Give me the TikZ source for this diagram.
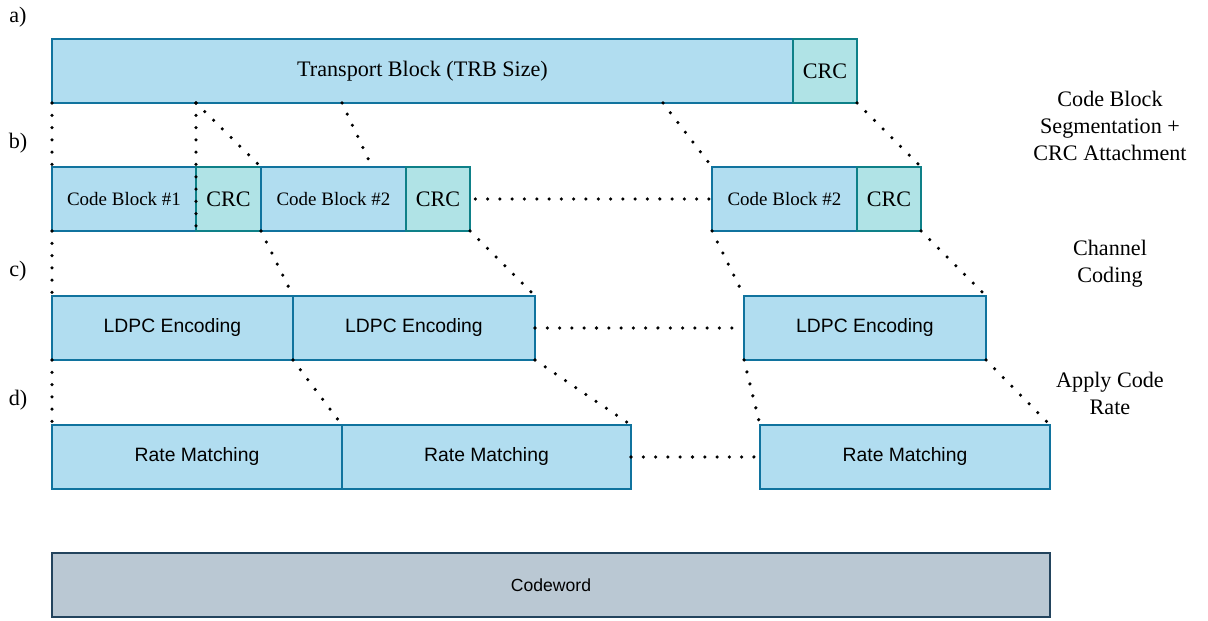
\documentclass[tikz,border=0pt]{standalone}
\usepackage{fontspec}
\setmainfont{Liberation Serif}
\newfontfamily\arialf{Liberation Sans}
\definecolor{blkfill}{HTML}{B1DDF0}
\definecolor{blkline}{HTML}{10739E}
\definecolor{crcfill}{HTML}{B0E3E6}
\definecolor{crcline}{HTML}{0E8088}
\definecolor{cwfill}{HTML}{BAC8D3}
\definecolor{cwline}{HTML}{23445D}
\tikzset{
  blk/.style={draw=blkline, fill=blkfill, line width=0.85pt, inner sep=0pt, outer sep=0pt,
    anchor=north west, minimum width=#1*0.02cm, minimum height=64*0.02cm},
  crcbox/.style={blk=#1, draw=crcline, fill=crcfill},
  cwbox/.style={blk=#1, draw=cwline, fill=cwfill},
  serifbig/.style={font=\fontsize{12.6pt}{15.3pt}\selectfont},
  serifsmall/.style={font=\fontsize{10.8pt}{13pt}\selectfont},
  sansmid/.style={font=\arialf\fontsize{11pt}{13pt}\selectfont},
  dotline/.style={line width=2pt, line cap=round, dash pattern=on 0pt off 7pt},
  steplabel/.style={serifbig, align=center},
  rowlabel/.style={serifbig}
}
\begin{document}
\begin{tikzpicture}[x=0.02cm, y=-0.02cm]
\useasboundingbox (0,0) rectangle (1208,621);

% a) transport block with its CRC
\node[blk=741, serifbig] (tb) at (52,39) {Transport Block (TRB Size)};
\node[crcbox=64, serifbig] (tcrc) at (793,39) {CRC};

% b) code blocks with CRC attached
\node[blk=144, serifsmall] (cb1) at (52,167) {Code Block \#1};
\node[crcbox=65, serifbig] (c1) at (196,167) {CRC};
\node[blk=145, serifsmall] (cb2) at (261,167) {Code Block \#2};
\node[crcbox=64, serifbig] (c2) at (406,167) {CRC};
\node[blk=145, serifsmall] (cb3) at (712,167) {Code Block \#2};
\node[crcbox=64, serifbig] (c3) at (857,167) {CRC};

% c) LDPC encoding
\node[blk=241, sansmid] (l1) at (52,296) {LDPC Encoding};
\node[blk=242, sansmid] (l2) at (293,296) {LDPC Encoding};
\node[blk=242, sansmid] (l3) at (744,296) {LDPC Encoding};

% d) rate matching
\node[blk=290, sansmid] (r1) at (52,425) {Rate Matching};
\node[blk=289, sansmid] (r2) at (342,425) {Rate Matching};
\node[blk=290, sansmid] (r3) at (760,425) {Rate Matching};

% final codeword
\node[cwbox=998, font=\arialf\fontsize{10pt}{12pt}\selectfont] (cw) at (52,553) {Codeword};

% row labels
\node[rowlabel] (la) at (18,17) {a)};
\node[rowlabel] (lb) at (18,143) {b)};
\node[rowlabel] (lc) at (18,271) {c)};
\node[rowlabel] (ld) at (18,400) {d)};

% step descriptions
\node[steplabel] (s1) at (1110,126) {Code Block\\Segmentation +\\CRC Attachment};
\node[steplabel] (s2) at (1110,264) {Channel\\Coding};
\node[steplabel] (s3) at (1110,393) {Apply Code\\Rate};

% split points on the transport block
\coordinate (sp1) at (342,103);
\coordinate (sp2) at (663,103);
\coordinate (cb2mark) at (372,167);

% a) -> b)
\draw[dotline] (tb.south west) -- (cb1.north west);
\draw[dotline] (c1.north west |- tb.south) -- (c1.south west);
\draw[dotline] (c1.north west |- tb.south) -- (cb2.north west);
\draw[dotline] (sp1) -- (cb2mark);
\draw[dotline] (sp2) -- (cb3.north west);
\draw[dotline] (tcrc.south east) -- (c3.north east);
\draw[dotline] ([xshift=3pt]c2.east) -- (cb3.west);

% b) -> c)
\draw[dotline] (cb1.south west) -- (l1.north west);
\draw[dotline] (cb2.south west) -- (l2.north west);
\draw[dotline] (c2.south east) -- (l2.north east);
\draw[dotline] (cb3.south west) -- (l3.north west);
\draw[dotline] (c3.south east) -- (l3.north east);
\draw[dotline] (l2.east) -- (l3.west);

% c) -> d)
\draw[dotline] (l1.south west) -- (r1.north west);
\draw[dotline] (l2.south west) -- (r2.north west);
\draw[dotline] (l2.south east) -- (r2.north east);
\draw[dotline] (l3.south west) -- (r3.north west);
\draw[dotline] (l3.south east) -- (r3.north east);
\draw[dotline] (r2.east) -- (r3.west);
\end{tikzpicture}
\end{document}
